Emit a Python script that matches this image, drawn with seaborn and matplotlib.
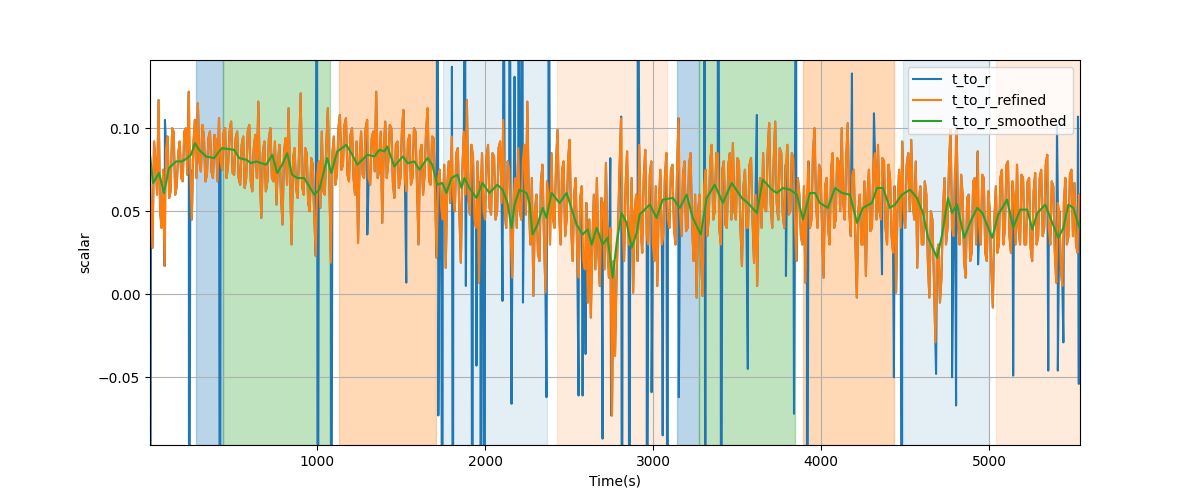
import numpy as np
import pandas as pd
import matplotlib
matplotlib.use("Agg")
import matplotlib.pyplot as plt
import seaborn as sns

# ---------------- data ----------------
# t_to_r_refined, sampled every 9 s (rows of 180 s)
refined_step = 9
refined_values = [
    0.090, 0.055, 0.028, 0.092, 0.080, 0.060, 0.117, 0.050, 0.040, 0.075, 0.017, 0.088, 0.095, 0.058, 0.062, 0.100, 0.098, 0.060, 0.065, 0.085,
    0.092, 0.070, 0.068, 0.098, 0.100, 0.072, 0.122, 0.075, 0.045, 0.090, 0.105, 0.070, 0.115, 0.080, 0.074, 0.102, 0.095, 0.068, 0.072, 0.094,
    0.098, 0.074, 0.070, 0.096, 0.092, 0.068, 0.106, 0.080, 0.075, 0.097, 0.100, 0.070, 0.078, 0.098, 0.104, 0.073, 0.072, 0.094, 0.098, 0.070,
    0.066, 0.090, 0.095, 0.064, 0.070, 0.098, 0.102, 0.068, 0.062, 0.088, 0.096, 0.070, 0.116, 0.072, 0.046, 0.085, 0.092, 0.062, 0.068, 0.094,
    0.100, 0.070, 0.068, 0.092, 0.054, 0.080, 0.090, 0.060, 0.042, 0.085, 0.094, 0.066, 0.112, 0.070, 0.030, 0.082, 0.088, 0.064, 0.058, 0.086,
    0.121, 0.065, 0.060, 0.088, 0.085, 0.055, 0.050, 0.082, 0.078, 0.048, 0.023, 0.072, 0.080, 0.052, 0.098, 0.062, 0.060, 0.090, 0.112, 0.068,
    0.019, 0.085, 0.095, 0.066, 0.072, 0.100, 0.108, 0.075, 0.078, 0.102, 0.106, 0.072, 0.068, 0.096, 0.100, 0.070, 0.060, 0.092, 0.031, 0.080,
    0.098, 0.072, 0.070, 0.100, 0.105, 0.070, 0.066, 0.094, 0.098, 0.074, 0.122, 0.070, 0.075, 0.098, 0.043, 0.088, 0.104, 0.070, 0.080, 0.102,
    0.100, 0.068, 0.058, 0.090, 0.092, 0.064, 0.070, 0.098, 0.111, 0.068, 0.062, 0.092, 0.096, 0.066, 0.070, 0.100, 0.098, 0.066, 0.030, 0.085,
    0.090, 0.060, 0.072, 0.098, 0.112, 0.068, 0.066, 0.095, 0.094, 0.060, 0.022, 0.070, 0.075, 0.052, 0.045, 0.078, 0.016, 0.065, 0.080, 0.055,
    0.095, 0.058, 0.050, 0.085, 0.088, 0.050, 0.019, 0.075, 0.098, 0.060, 0.117, 0.058, 0.048, 0.090, 0.085, 0.045, 0.040, 0.080, 0.007, 0.068,
    0.085, 0.050, 0.045, 0.082, 0.090, 0.052, 0.048, 0.085, 0.083, 0.045, 0.050, 0.088, 0.092, 0.055, 0.105, 0.050, 0.040, 0.080, 0.075, 0.035,
    0.010, 0.060, 0.070, 0.040, 0.088, 0.050, 0.045, 0.080, 0.090, 0.048, 0.116, 0.055, 0.030, 0.070, -0.001, 0.050, 0.060, 0.025, 0.020, 0.068,
    0.078, 0.035, 0.001, 0.068, 0.060, 0.030, 0.085, 0.045, 0.040, 0.080, 0.099, 0.050, 0.030, 0.075, 0.080, 0.035, 0.045, 0.082, 0.093, 0.040,
    0.020, 0.060, 0.070, 0.025, 0.010, 0.058, 0.065, 0.020, 0.015, 0.055, -0.005, 0.045, -0.014, 0.030, 0.060, 0.015, 0.070, 0.025, 0.005, 0.058,
    0.055, 0.015, 0.079, 0.030, 0.010, 0.040, -0.073, 0.020, -0.037, 0.010, 0.040, 0.075, 0.106, 0.045, 0.020, 0.065, 0.086, 0.030, 0.030, 0.070,
    0.001, 0.050, 0.060, 0.020, 0.090, 0.040, 0.025, 0.070, 0.087, 0.035, 0.030, 0.072, 0.080, 0.030, 0.020, 0.065, 0.005, 0.055, 0.075, 0.030,
    0.035, 0.070, 0.085, 0.045, 0.040, 0.075, 0.078, 0.040, 0.030, 0.072, 0.106, 0.050, 0.035, 0.072, 0.080, 0.038, 0.040, 0.078, 0.085, 0.042,
    0.020, 0.060, -0.002, 0.050, 0.060, 0.020, -0.001, 0.065, 0.075, 0.035, 0.045, 0.080, 0.090, 0.045, 0.050, 0.085, 0.085, 0.040, 0.030, 0.075,
    0.080, 0.042, 0.040, 0.078, 0.085, 0.045, 0.091, 0.050, 0.045, 0.082, 0.080, 0.040, 0.017, 0.065, 0.075, 0.040, 0.040, 0.078, 0.082, 0.045,
    0.019, 0.060, 0.005, 0.055, 0.070, 0.040, 0.085, 0.052, 0.050, 0.085, 0.103, 0.055, 0.040, 0.080, 0.104, 0.055, 0.045, 0.088, 0.085, 0.048,
    0.040, 0.078, 0.090, 0.048, 0.050, 0.085, 0.082, 0.045, 0.020, 0.070, 0.060, 0.035, 0.030, 0.065, 0.007, 0.060, 0.080, 0.040, 0.045, 0.085,
    0.100, 0.055, 0.040, 0.078, 0.075, 0.040, 0.010, 0.065, 0.070, 0.040, 0.030, 0.075, 0.085, 0.040, 0.045, 0.082, 0.080, 0.050, 0.100, 0.055,
    0.045, 0.082, 0.103, 0.050, 0.035, 0.072, 0.075, 0.035, -0.002, 0.050, 0.060, 0.030, 0.030, 0.068, 0.011, 0.058, 0.075, 0.038, 0.040, 0.078,
    0.085, 0.045, 0.090, 0.050, 0.045, 0.082, 0.080, 0.040, 0.030, 0.078, 0.070, 0.035, 0.025, 0.065, 0.001, 0.055, 0.075, 0.040, 0.092, 0.050,
    0.040, 0.078, 0.085, 0.050, 0.093, 0.055, 0.045, 0.080, 0.016, 0.055, 0.065, 0.030, 0.030, 0.068, 0.060, 0.020, -0.002, 0.050, 0.045, 0.010,
    -0.029, 0.025, 0.030, -0.005, 0.010, 0.050, 0.070, 0.030, 0.040, 0.078, 0.099, 0.040, 0.035, 0.075, 0.101, 0.045, 0.030, 0.072, 0.060, 0.020,
    0.010, 0.058, 0.060, 0.020, 0.025, 0.068, 0.070, 0.030, 0.086, 0.040, 0.030, 0.072, 0.070, 0.025, 0.020, 0.062, 0.050, 0.015, -0.008, 0.045,
    0.065, 0.025, 0.030, 0.070, 0.075, 0.030, 0.040, 0.078, 0.080, 0.035, 0.025, 0.068, 0.060, 0.030, 0.078, 0.040, 0.030, 0.072, 0.070, 0.030,
    0.030, 0.068, 0.070, 0.028, 0.020, 0.062, 0.073, 0.030, 0.035, 0.070, 0.075, 0.035, 0.040, 0.078, 0.084, 0.040, 0.030, 0.068, 0.065, 0.025,
    0.007, 0.055, 0.050, 0.015, 0.005, 0.055, 0.070, 0.030, 0.035, 0.072, 0.075, 0.035, 0.067, 0.030, 0.025, 0.060,
]

# t_to_r: raw spikes (where it departs from the refined series)
spike_times = [4, 92, 236, 420, 996, 1002, 1082, 1297, 1529, 1714, 1720, 1744,
               1801, 1807, 1879, 1884, 1923, 1947, 1971, 1995, 2102, 2108, 2144,
               2156, 2174, 2197, 2219, 2224, 2364, 2376, 2555, 2579, 2597, 2698,
               2744, 2749, 2809, 2814, 2859, 2907, 2961, 2990, 3056, 3086, 3152,
               3305, 3310, 3385, 3403, 3563, 3617, 3790, 3838, 3850, 3915, 4183,
               4314, 4362, 4433, 4481, 4684, 4779, 4803, 4934, 5143, 5352, 5404,
               5409, 5442, 5529, 5534]
spike_values = [-0.3, 0.105, -0.3, -0.3, 0.3, -0.3, -0.3, 0.036, 0.007, 0.3, -0.073, -0.3,
                0.137, -0.3, 0.3, 0.005, -0.3, -0.043, -0.3, -0.3, -0.004, 0.3, 0.3,
                -0.066, 0.131, 0.3, 0.3, -0.005, -0.062, 0.3, -0.061, -0.061, -0.036, -0.087,
                0.082, -0.073, 0.107, -0.3, -0.3, 0.3, -0.3, -0.059, -0.085, -0.3, -0.062,
                0.3, -0.3, 0.3, -0.3, -0.045, 0.108, 0.011, -0.072, 0.3, -0.3, 0.133,
                0.109, 0.012, -0.050, -0.3, -0.048, -0.050, -0.067, 0.018, -0.049, -0.046, 0.102,
                -0.046, -0.029, 0.107, -0.054]

# t_to_r_smoothed
smoothed_times = [3, 21, 57, 86, 116, 158, 194, 224, 247, 271, 295, 337, 385, 414, 432,
                  504, 534, 576, 605, 635, 695, 731, 760, 790, 820, 849, 880, 921, 981,
                  1011, 1058, 1082, 1118, 1172, 1208, 1237, 1297, 1339, 1369, 1399, 1416,
                  1458, 1508, 1538, 1577, 1607, 1655, 1684, 1714, 1744, 1768, 1798, 1834,
                  1858, 1875, 1905, 1947, 1983, 2024, 2072, 2102, 2132, 2156, 2174, 2203,
                  2245, 2263, 2281, 2311, 2341, 2364, 2394, 2442, 2484, 2543, 2579, 2609,
                  2633, 2663, 2698, 2728, 2758, 2782, 2811, 2841, 2871, 2901, 2919, 2949,
                  2979, 3020, 3056, 3116, 3158, 3199, 3235, 3283, 3318, 3366, 3414, 3467,
                  3527, 3563, 3617, 3652, 3706, 3736, 3772, 3814, 3855, 3891, 3933, 3963,
                  3992, 4040, 4082, 4123, 4171, 4213, 4248, 4302, 4332, 4368, 4409, 4439,
                  4481, 4529, 4570, 4606, 4636, 4690, 4720, 4755, 4779, 4809, 4851, 4899,
                  4929, 4959, 5018, 5054, 5107, 5143, 5185, 5227, 5257, 5287, 5334, 5376,
                  5412, 5442, 5472, 5501, 5541]
smoothed_values = [0.084, 0.067, 0.073, 0.061, 0.076, 0.080, 0.080, 0.082, 0.084, 0.091, 0.087, 0.083, 0.082, 0.086, 0.088,
                   0.087, 0.082, 0.081, 0.079, 0.080, 0.078, 0.084, 0.073, 0.078, 0.085, 0.072, 0.070, 0.070, 0.060,
                   0.063, 0.082, 0.073, 0.086, 0.090, 0.084, 0.078, 0.084, 0.083, 0.087, 0.086, 0.089,
                   0.077, 0.083, 0.079, 0.080, 0.075, 0.082, 0.078, 0.066, 0.067, 0.061, 0.070, 0.072,
                   0.064, 0.070, 0.064, 0.058, 0.067, 0.061, 0.066, 0.063, 0.055, 0.040, 0.054, 0.063,
                   0.061, 0.055, 0.036, 0.042, 0.052, 0.046, 0.061, 0.055, 0.061, 0.042, 0.036, 0.039,
                   0.030, 0.040, 0.030, 0.034, 0.010, 0.031, 0.049, 0.043, 0.028, 0.037, 0.048, 0.051,
                   0.054, 0.046, 0.057, 0.058, 0.052, 0.060, 0.046, 0.036, 0.058, 0.066, 0.055, 0.067,
                   0.058, 0.055, 0.049, 0.069, 0.063, 0.061, 0.064, 0.063, 0.060, 0.045, 0.061, 0.061,
                   0.055, 0.052, 0.064, 0.061, 0.060, 0.043, 0.052, 0.055, 0.064, 0.064, 0.052, 0.054,
                   0.060, 0.063, 0.058, 0.049, 0.034, 0.022, 0.036, 0.058, 0.049, 0.054, 0.034, 0.046,
                   0.052, 0.049, 0.034, 0.048, 0.057, 0.040, 0.051, 0.051, 0.039, 0.049, 0.054, 0.043,
                   0.034, 0.040, 0.054, 0.052, 0.039]

# shaded phases
phase_starts = [277, 438, 1130, 1750, 2424, 3140, 3271, 3890, 4487, 5043]
phase_ends = [438, 1076, 1708, 2370, 3080, 3271, 3843, 4434, 5000, 5560]
phase_colors = ["tab:blue", "tab:green", "tab:orange", "tab:blue", "tab:orange",
                "tab:blue", "tab:green", "tab:orange", "tab:blue", "tab:orange"]
phase_alphas = [0.3, 0.3, 0.3, 0.12, 0.15, 0.3, 0.3, 0.3, 0.12, 0.15]

# ---------------- build frames ----------------
refined_times = np.arange(len(refined_values)) * refined_step
refined = pd.DataFrame({"t": refined_times, "v": refined_values})
raw = pd.concat([refined, pd.DataFrame({"t": spike_times, "v": spike_values})])
raw = raw.sort_values("t", kind="stable").reset_index(drop=True)
smooth = pd.DataFrame({"t": smoothed_times, "v": smoothed_values})

# ---------------- plot ----------------
fig, ax = plt.subplots(figsize=(12, 5), dpi=100)

for s, e, c, a in zip(phase_starts, phase_ends, phase_colors, phase_alphas):
    ax.axvspan(s, e, color=c, alpha=a)

sns.lineplot(data=raw, x="t", y="v", ax=ax, color="tab:blue", label="t_to_r",
             estimator=None, sort=False, linewidth=1.5)
sns.lineplot(data=refined, x="t", y="v", ax=ax, color="tab:orange", label="t_to_r_refined",
             estimator=None, sort=False, linewidth=1.5)
sns.lineplot(data=smooth, x="t", y="v", ax=ax, color="tab:green", label="t_to_r_smoothed",
             estimator=None, sort=False, linewidth=1.5)

ax.set_xlim(3, 5541)
ax.set_ylim(-0.0908, 0.1411)
ax.set_yticks([-0.05, 0.0, 0.05, 0.10])
ax.grid(True)
ax.set_xlabel("Time(s)")
ax.set_ylabel("scalar")
ax.legend(loc="upper right")

fig.savefig("out.png", dpi=100)
